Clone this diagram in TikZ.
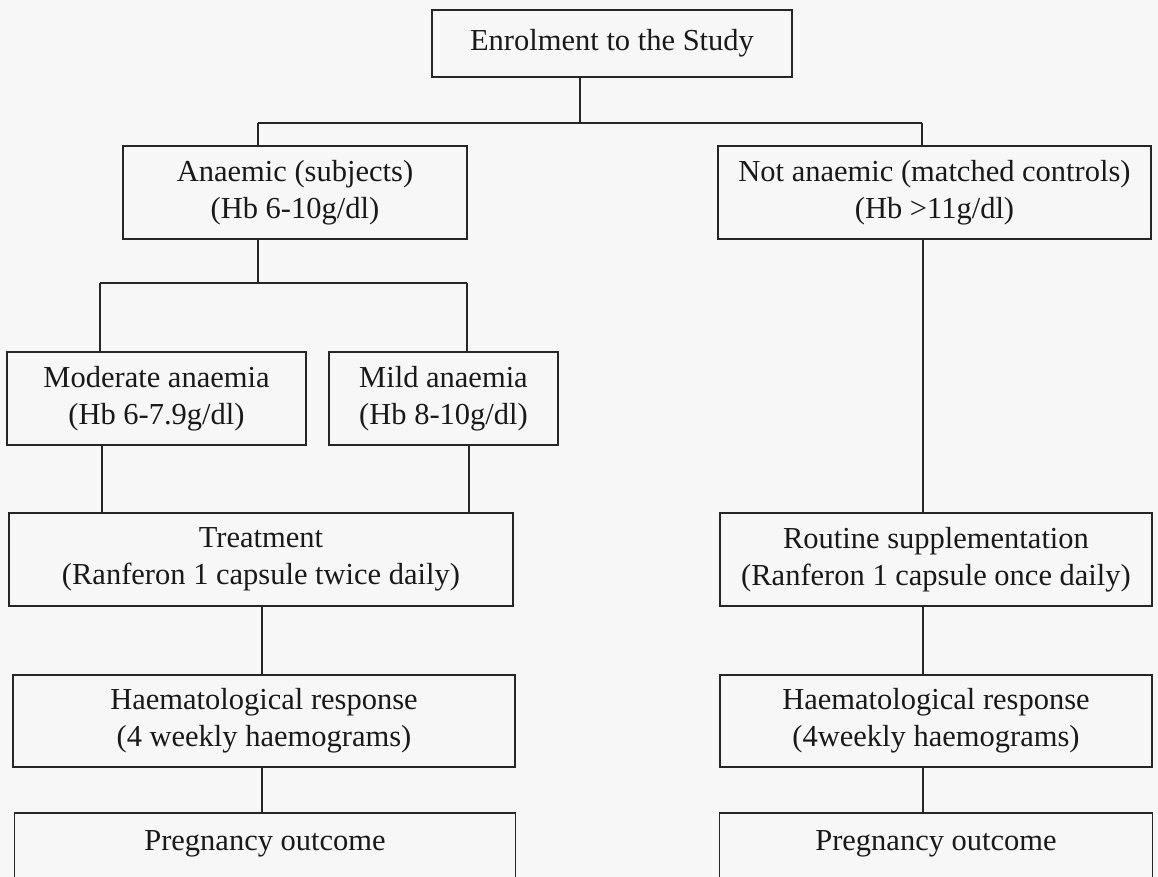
\documentclass[tikz,border=0pt]{standalone}
\usepackage{fontspec}
\setmainfont{Liberation Serif}
\usetikzlibrary{calc}
\begin{document}
\begin{tikzpicture}[x=1pt,y=-1pt,
  box/.style={draw=black!85, line width=1.4pt, rectangle, align=center, inner sep=0pt,
    font=\fontsize{30.5}{37}\selectfont, text=black!90},
  openbox/.style={box, draw=none},
  link/.style={draw=black!85, line width=1.1pt}]
\useasboundingbox (0,0) rectangle (1158,877);
\clip (0,0) rectangle (1158,877);
\fill[black!3] (0,0) rectangle (1158,877);

\node[box, minimum width=360, minimum height=67] (enrol) at (612,43.5) {Enrolment to the Study};
\node[box, minimum width=344, minimum height=93] (anaemic) at (295,192.5) {Anaemic (subjects)\\(Hb 6-10g/dl)};
\node[box, minimum width=433, minimum height=93] (notan) at (934.5,192.5) {Not anaemic (matched controls)\\(Hb >11g/dl)};
\node[box, minimum width=299, minimum height=93] (moderate) at (156.5,398.5) {Moderate anaemia\\(Hb 6-7.9g/dl)};
\node[box, minimum width=229, minimum height=93] (mild) at (443.5,398.5) {Mild anaemia\\(Hb 8-10g/dl)};
\node[box, minimum width=504, minimum height=93] (treat) at (261,559.5) {Treatment\\(Ranferon 1 capsule twice daily)};
\node[box, minimum width=432, minimum height=93] (routine) at (936,559.5) {Routine supplementation\\(Ranferon 1 capsule once daily)};
\node[box, minimum width=502, minimum height=92] (haemL) at (264,721) {Haematological response\\(4 weekly haemograms)};
\node[box, minimum width=432, minimum height=92] (haemR) at (936,721) {Haematological response\\(4weekly haemograms)};
\node[openbox, minimum width=500, minimum height=60, anchor=north] (pregL) at (265,813) {Pregnancy outcome};
\node[openbox, minimum width=432, minimum height=60, anchor=north] (pregR) at (936,813) {Pregnancy outcome};
% lower boxes run past the bottom edge
\draw[box] ($(pregL.south west)+(0,30)$) -- (pregL.north west) -- (pregL.north east) -- ($(pregL.south east)+(0,30)$);
\draw[box] ($(pregR.south west)+(0,30)$) -- (pregR.north west) -- (pregR.north east) -- ($(pregR.south east)+(0,30)$);

\coordinate (j1) at (580,123);
\coordinate (jl) at (258,123);
\coordinate (jr) at (922,123);
\coordinate (j2) at (258,283);
\coordinate (j2l) at (100,283);
\coordinate (j2r) at (467,283);

\draw[link] (enrol.south -| j1) -- (j1);
\draw[link] (jl) -- (jr);
\draw[link] (jl) -- (anaemic.north -| jl);
\draw[link] (jr) -- (notan.north -| jr);
\draw[link] (anaemic.south -| j2) -- (j2);
\draw[link] (j2l) -- (j2r);
\draw[link] (j2l) -- (moderate.north -| j2l);
\draw[link] (j2r) -- (mild.north -| j2r);

\coordinate (m1) at (102,0);
\coordinate (m2) at (469,0);
\draw[link] (moderate.south -| m1) -- (treat.north -| m1);
\draw[link] (mild.south -| m2) -- (treat.north -| m2);

\coordinate (r1) at (923,0);
\draw[link] (notan.south -| r1) -- (routine.north -| r1);
\draw[link] (routine.south -| r1) -- (haemR.north -| r1);
\draw[link] (haemR.south -| r1) -- (pregR.north -| r1);

\coordinate (l1) at (262,0);
\draw[link] (treat.south -| l1) -- (haemL.north -| l1);
\draw[link] (haemL.south -| l1) -- (pregL.north -| l1);
\end{tikzpicture}
\end{document}
